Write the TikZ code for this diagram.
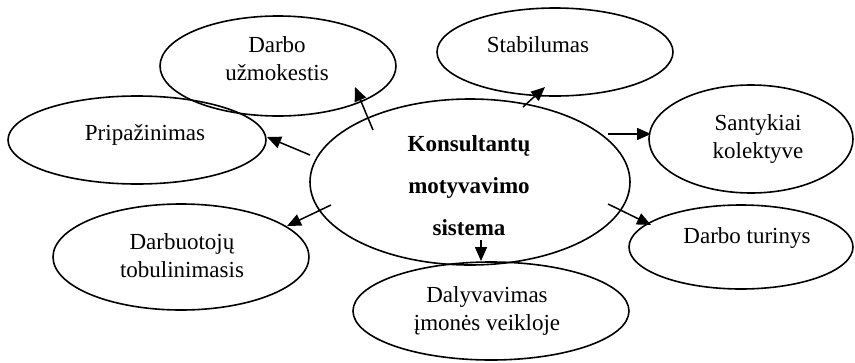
\documentclass[tikz,border=0pt]{standalone}
\usepackage{fontspec}
\setmainfont{Liberation Serif}
\usetikzlibrary{shapes.geometric,arrows.meta}

\begin{document}
\begin{tikzpicture}[x=1pt,y=-1pt,
  bubble/.style={draw, ellipse, line width=1.6pt, inner sep=0pt},
  caption/.style={font=\fontsize{23}{28}\selectfont, align=center, inner sep=0pt},
  link/.style={line width=1.5pt, -{Triangle[length=14pt,width=12pt]}}]
\useasboundingbox (0,0) rectangle (855,362);

% ellipses
\node[bubble, minimum width=320pt, minimum height=166pt] (core) at (470,182) {};
\node[bubble, minimum width=236pt, minimum height=100pt] (pay)  at (278,66)  {};
\node[bubble, minimum width=236pt, minimum height=88pt]  (stab) at (555,52)  {};
\node[bubble, minimum width=204pt, minimum height=108pt] (rel)  at (751,139) {};
\node[bubble, minimum width=224pt, minimum height=84pt]  (cont) at (741,247) {};
\node[bubble, minimum width=276pt, minimum height=98pt]  (part) at (491,311) {};
\node[bubble, minimum width=256pt, minimum height=106pt] (dev)  at (181,257) {};
\node[bubble, minimum width=258pt, minimum height=88pt]  (rec)  at (137,140) {};

% texts
\node[caption, font=\fontsize{23}{42}\selectfont\bfseries] (core-t) at (469,186)
  {Konsultantų\\motyvavimo\\sistema};
\node[caption] (pay-t)  at (277,59)  {Darbo\\užmokestis};
\node[caption] (stab-t) at (538,45)  {Stabilumas};
\node[caption] (rel-t)  at (758,139) {Santykiai\\kolektyve};
\node[caption] (cont-t) at (747,238) {Darbo turinys};
\node[caption] (part-t) at (487,311) {Dalyvavimas\\įmonės veikloje};
\node[caption] (dev-t)  at (182,256) {Darbuotojų\\tobulinimasis};
\node[caption] (rec-t)  at (145,135) {Pripažinimas};

% arrow end points
\coordinate (s1) at (373,130); \coordinate (e1) at (355,87);
\coordinate (s2) at (310,155); \coordinate (e2) at (267,137);
\coordinate (s3) at (523,107); \coordinate (e3) at (545,87);
\coordinate (s4) at (608,134); \coordinate (e4) at (651,134);
\coordinate (s5) at (608,204); \coordinate (e5) at (651,225);
\coordinate (s6) at (331,205); \coordinate (e6) at (287,226);
\coordinate (s7) at (481,240); \coordinate (e7) at (481,261);

\draw[link] (s1) -- (e1);
\draw[link] (s2) -- (e2);
\draw[link] (s3) -- (e3);
\draw[link] (s4) -- (e4);
\draw[link] (s5) -- (e5);
\draw[link] (s6) -- (e6);
\draw[link] (s7) -- (e7);
\end{tikzpicture}
\end{document}
